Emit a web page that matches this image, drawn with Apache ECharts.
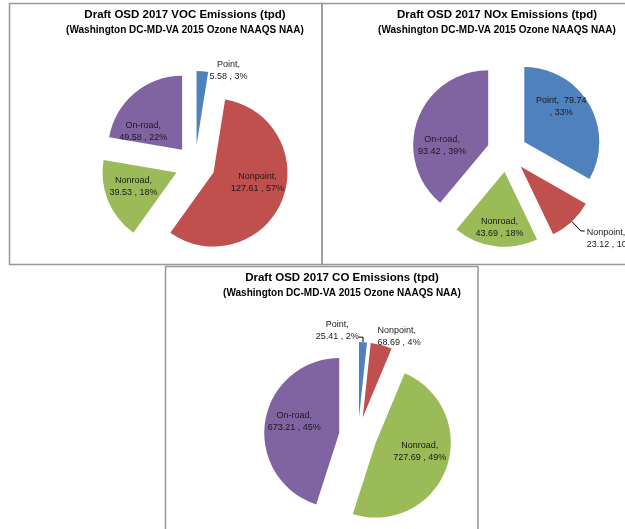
<!DOCTYPE html>
<html>
<head>
<meta charset="utf-8">
<script src="https://cdn.jsdelivr.net/npm/echarts@6/dist/echarts.min.js"></script>
<style>
html, body { margin: 0; padding: 0; background: #fff; }
#main { width: 625px; height: 529px; }
</style>
</head>
<body>
<div id="main"></div>
<script>
// chart data
var categories = ['Point', 'Nonpoint', 'Nonroad', 'On-road'];
var vocValues = [5.58, 127.61, 39.53, 49.58];
var noxValues = [79.74, 23.12, 43.69, 93.42];
var coValues = [25.41, 68.69, 727.69, 673.21];
var sliceColors = ['#4F81BD', '#C0504D', '#9BBB59', '#8064A2'];
var chartTitles = [
    'Draft OSD 2017 VOC Emissions (tpd)',
    'Draft OSD 2017 NOx Emissions (tpd)',
    'Draft OSD 2017 CO Emissions (tpd)'
];
var subTitle = '(Washington DC-MD-VA 2015 Ozone NAAQS NAA)';

var FONT = '"Liberation Sans", Arial, sans-serif';

// small slices get their label outside, like excel did
var vocLabels = {
    0: { label: { position: 'outside', distanceToLabelLine: 5 }, labelLine: { show: false, length: 1, length2: 3 } }
};
var noxLabels = {
    0: { label: { formatter: '{b},  {c}\n, {d}%' } },
    1: { label: { position: 'outside', distanceToLabelLine: 2 }, labelLine: { show: true, length: 13, length2: 4 } }
};
var coLabels = {
    0: { label: { position: 'outside', distanceToLabelLine: 2 }, labelLine: { show: true, length: 5, length2: -5 } },
    1: { label: { position: 'outside', distanceToLabelLine: -6 }, labelLine: { show: false, length: 9, length2: 0 } }
};
// excel "best fit" nudges for the labels [dx, dy]
var vocNudge = [[18, 0], [7, -5], [-6, -1], [-13, 12]];
var noxNudge = [[2, -15], [0, 8], [0, 15], [-8, 14]];
var coNudge = [[-23, -7], [0, 0], [6, -5], [-5, -5]];

// labels whose lines are centred over each other
var vocCentred = { 0: true };
var coCentred = { 0: true };

function buildSeries(values, center, radius, offset, overrides, nudge, centred) {
    return {
        type: 'pie',
        center: center,
        radius: radius,
        startAngle: 90,
        clockwise: true,
        selectedMode: 'multiple',
        selectedOffset: offset,
        avoidLabelOverlap: false,
        percentPrecision: 0,
        silent: true,
        label: {
            position: 'inside',
            formatter: '{b},\n{c} , {d}%',
            color: '#1a1a1a',
            fontFamily: FONT,
            fontSize: 9,
            lineHeight: 12,
            textBorderWidth: 0
        },
        labelLine: { show: false, lineStyle: { color: '#000', width: 1 } },
        labelLayout: function (p) {
            var n = nudge[p.dataIndex];
            var out = { dx: n[0], dy: n[1] };
            if (centred && centred[p.dataIndex]) out.align = 'center';
            return out;
        },
        emphasis: { disabled: true },
        data: values.map(function (v, i) {
            var item = {
                name: categories[i],
                value: v,
                selected: true,
                itemStyle: { color: sliceColors[i] }
            };
            var o = overrides[i];
            if (o) {
                if (o.label) item.label = o.label;
                if (o.labelLine) item.labelLine = o.labelLine;
            }
            return item;
        })
    };
}

function buildTitle(text, x, y) {
    return {
        text: text,
        subtext: subTitle,
        left: x,
        top: y,
        textAlign: 'center',
        padding: 0,
        itemGap: 4,
        textStyle: { fontFamily: FONT, fontSize: 11.5, fontWeight: 'bold', color: '#000' },
        subtextStyle: { fontFamily: FONT, fontSize: 10, fontWeight: 'bold', color: '#000' }
    };
}

var myChart = echarts.init(document.getElementById('main'), null, { renderer: 'canvas' });

var option = {
    backgroundColor: '#fff',
    animation: false,
    title: [
        buildTitle(chartTitles[0], 185, 9),
        buildTitle(chartTitles[1], 497, 9),
        buildTitle(chartTitles[2], 342, 272)
    ],
    graphic: [
        { type: 'rect', shape: { x: 9.5, y: 3.5, width: 312.5, height: 261 }, style: { fill: 'none', stroke: '#999', lineWidth: 1.5 }, z: -1 },
        { type: 'rect', shape: { x: 322, y: 3.5, width: 320, height: 261 }, style: { fill: 'none', stroke: '#999', lineWidth: 1.5 }, z: -1 },
        { type: 'rect', shape: { x: 165.5, y: 266.5, width: 312.5, height: 280 }, style: { fill: 'none', stroke: '#999', lineWidth: 1.5 }, z: -1 }
    ],
    series: [
        buildSeries(vocValues, [195, 165], 74, 20, vocLabels, vocNudge, vocCentred),
        buildSeries(noxValues, [507, 152], 75, 20, noxLabels, noxNudge),
        buildSeries(coValues, [358, 436], 75, 19, coLabels, coNudge, coCentred)
    ]
};

myChart.setOption(option);
</script>
</body>
</html>
